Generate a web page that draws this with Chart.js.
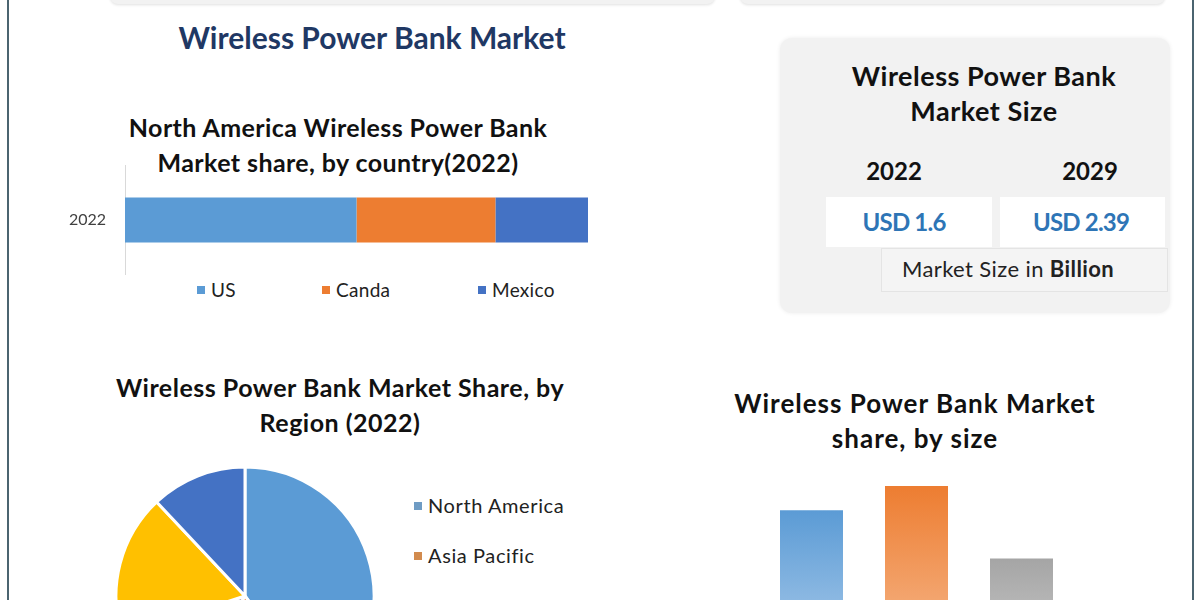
<!DOCTYPE html>
<html>
<head>
<meta charset="utf-8">
<script src="https://cdn.jsdelivr.net/npm/chart.js@4.4.0/dist/chart.umd.min.js"></script>
<style>
  html, body { margin: 0; padding: 0; background: #fff; }
  #page { position: relative; width: 1200px; height: 600px; overflow: hidden; background: #fff; font-family: Lato, "Open Sans", sans-serif; color: #111; }
  .edge { position: absolute; top: 0; width: 2px; height: 600px; background: #4b6470; }
  .topbox { position: absolute; top: -20px; height: 24px; background: #f2f2f2; border-radius: 8px; box-shadow: 0 1px 3px rgba(0,0,0,0.12); }
  .txt { position: absolute; white-space: nowrap; text-align: center; transform: translateX(-50%); }
  .b { font-weight: 700; }
  #sizeBox { position: absolute; left: 780px; top: 38px; width: 390px; height: 275px; background: #f2f2f2; border-radius: 12px; box-shadow: 0 0 4px rgba(0,0,0,0.08); }
  .wbox { position: absolute; background: #fff; }
  .legend { position: absolute; color: #222; white-space: nowrap; }
  .legend i { display: inline-block; width: 8px; height: 8px; margin-right: 6px; vertical-align: 3px; }
  canvas { position: absolute; }
</style>
</head>
<body>
<div id="page">
  <div class="edge" style="left:7px"></div>
  <div class="edge" style="left:1192px"></div>
  <div class="topbox" style="left:110px;width:605px"></div>
  <div class="topbox" style="left:740px;width:425px"></div>

  <div class="txt b" style="left:372px;top:19px;font-size:30px;color:#1f3864">Wireless Power Bank Market</div>

  <div class="txt b" style="left:338px;top:110px;font-size:25px;line-height:35px;letter-spacing:0.4px">North America Wireless Power Bank<br>Market share, by country(2022)</div>
  <canvas id="countryChart" width="575" height="110" style="left:25px;top:165px"></canvas>
  <div id="countryLegend"></div>

  <div id="sizeBox"></div>
  <div class="txt b" style="left:984px;top:58px;font-size:27px;line-height:35px;letter-spacing:0.5px">Wireless Power Bank<br>Market Size</div>
  <div class="txt b" style="left:894px;top:156px;font-size:24px">2022</div>
  <div class="txt b" style="left:1090px;top:156px;font-size:24px">2029</div>
  <div class="wbox" style="left:826px;top:197px;width:166px;height:50px"></div>
  <div class="wbox" style="left:1000px;top:197px;width:165px;height:50px"></div>
  <div class="txt b" style="left:904px;top:207px;font-size:24px;color:#2e75b6;letter-spacing:-0.8px">USD 1.6</div>
  <div class="txt b" style="left:1081px;top:207px;font-size:24px;color:#2e75b6;letter-spacing:-0.8px">USD 2.39</div>
  <div class="wbox" style="left:881px;top:248px;width:287px;height:44px;background:#f4f4f4;border:1px solid #e4e4e4;box-sizing:border-box"></div>
  <div class="txt" style="left:1008px;top:255px;font-size:22px;letter-spacing:0.4px;color:#222">Market Size in <span class="b">Billion</span></div>

  <div class="txt b" style="left:340px;top:370px;font-size:25px;line-height:35px;letter-spacing:0.5px">Wireless Power Bank Market Share, by<br>Region (2022)</div>
  <canvas id="regionChart" width="270" height="270" style="left:110px;top:461px"></canvas>
  <div id="regionLegend"></div>

  <div class="txt b" style="left:915px;top:386px;font-size:26px;line-height:35px;letter-spacing:1px">Wireless Power Bank Market<br>share, by size</div>
  <canvas id="sizeChart" width="315" height="185" style="left:759px;top:470px"></canvas>
</div>

<script>
// North America share by country (2022), %
const countryYears = ['2022'];
const countryLabels = ['US', 'Canda', 'Mexico'];
const countryShare = [50, 30, 20];
const countryColors = ['#5b9bd5', '#ed7d31', '#4472c4'];

// share by region (2022), %
const regionLabels = ['North America', 'Asia Pacific', 'Europe', 'Middle East & Africa', 'South America'];
const regionShare = [40, 19, 11, 18, 12];
const regionColors = ['#5b9bd5', '#ed7d31', '#a5a5a5', '#ffc000', '#4472c4'];
const regionLegendColors = ['#6f9cc4', '#d28b4e', '#a5a5a5', '#e8b420', '#4f76b8'];

// share by size, %
const sizeLabels = ['Small', 'Medium', 'Large'];
const sizeShare = [36, 42, 24];
const sizeTop = ['#5b9bd5', '#ed7d31', '#a5a5a5'];
const sizeBottom = ['#a9caea', '#f6b88c', '#c8c8c8'];

Chart.defaults.font.family = 'Lato, "Open Sans", sans-serif';
Chart.defaults.animation = false;

// stacked bar
new Chart(document.getElementById('countryChart'), {
    type: 'bar',
    data: {
        labels: countryYears,
        datasets: countryLabels.map((name, i) => ({
            label: name,
            data: [countryShare[i]],
            backgroundColor: countryColors[i],
            categoryPercentage: 1,
            barPercentage: 0.41
        }))
    },
    options: {
        indexAxis: 'y',
        responsive: false,
        layout: { padding: { right: 12 } },
        plugins: { legend: { display: false }, tooltip: { enabled: false } },
        scales: {
            x: { stacked: true, min: 0, max: 100, display: false },
            y: {
                stacked: true,
                grid: { display: false, drawTicks: false },
                border: { display: true, color: '#d9d9d9', width: 1 },
                ticks: { color: '#404040', font: { size: 16 }, padding: 19 },
                afterFit: s => { s.width = 100; s.paddingTop = 0; s.paddingBottom = 0; }
            }
        }
    }
});

const legendX = [197, 322, 478];
document.getElementById('countryLegend').innerHTML = countryLabels.map((name, i) =>
    `<div class="legend" style="left:${legendX[i]}px;top:278px;font-size:19px;letter-spacing:0.3px"><i style="background:${countryColors[i]}"></i>${name}</div>`
).join('');

// pie
new Chart(document.getElementById('regionChart'), {
    type: 'pie',
    data: {
        labels: regionLabels,
        datasets: [{
            data: regionShare,
            backgroundColor: regionColors,
            borderColor: '#fff',
            borderWidth: 3,
            hoverOffset: 0
        }]
    },
    options: {
        responsive: false,
        radius: 129,
        plugins: { legend: { display: false }, tooltip: { enabled: false } }
    }
});

// only the items that fall inside the page are shown in the reference
document.getElementById('regionLegend').innerHTML = regionLabels.slice(0, 2).map((name, i) =>
    `<div class="legend" style="left:414px;top:${493 + i * 50}px;font-size:20px;letter-spacing:0.6px"><i style="background:${regionLegendColors[i]}"></i>${name}</div>`
).join('');

// bars by size
new Chart(document.getElementById('sizeChart'), {
    type: 'bar',
    data: {
        labels: sizeLabels,
        datasets: [{
            data: sizeShare,
            categoryPercentage: 1,
            barPercentage: 0.6,
            backgroundColor: c => {
                const chart = c.chart;
                if (!chart.chartArea) return sizeTop[c.dataIndex];
                const y0 = chart.scales.y.getPixelForValue(sizeShare[c.dataIndex]);
                const g = chart.ctx.createLinearGradient(0, y0, 0, chart.chartArea.bottom);
                g.addColorStop(0, sizeTop[c.dataIndex]);
                g.addColorStop(1, sizeBottom[c.dataIndex]);
                return g;
            }
        }]
    },
    options: {
        responsive: false,
        layout: { padding: 0 },
        plugins: { legend: { display: false }, tooltip: { enabled: false } },
        scales: {
            x: { display: false },
            y: { display: false, min: 0, max: 46 }
        }
    }
});
</script>
</body>
</html>
